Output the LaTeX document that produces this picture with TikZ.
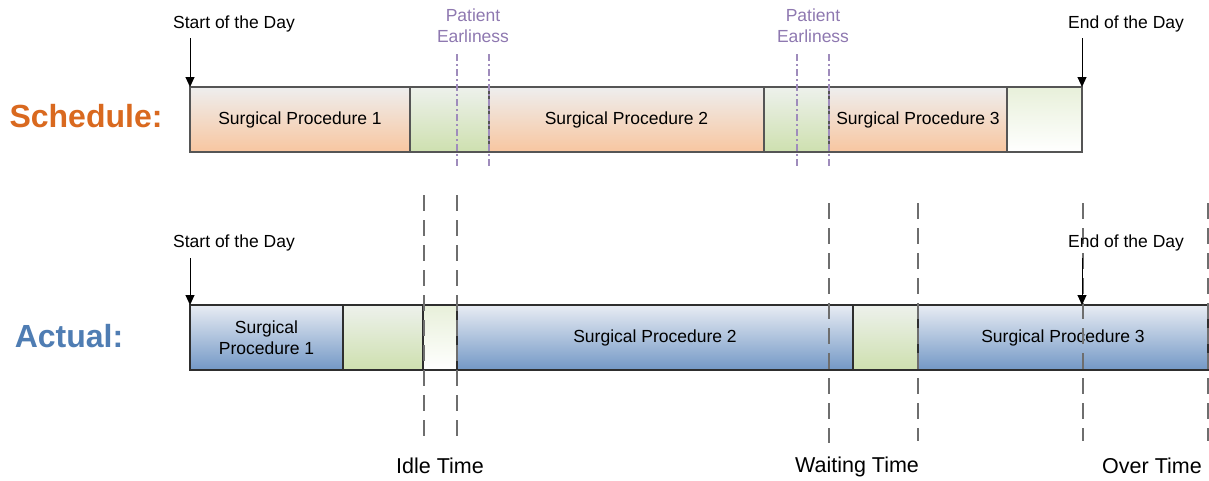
\documentclass[tikz,border=0pt]{standalone}
\usepackage{fontspec}
\setmainfont{Liberation Sans}
\usetikzlibrary{arrows.meta}
\definecolor{sched}{HTML}{D9691F}
\definecolor{actual}{HTML}{4F7DB3}
\definecolor{earl}{HTML}{8E78B0}
\definecolor{orangetop}{HTML}{EEEEEE}
\definecolor{orangebot}{HTML}{F8C6A0}
\definecolor{greentop}{HTML}{EDF1EC}
\definecolor{greenbot}{HTML}{CEE0AF}
\definecolor{palegreen}{HTML}{E8F0DA}
\definecolor{bluetop}{HTML}{E8ECF3}
\definecolor{bluebot}{HTML}{7398C6}
\definecolor{edge}{HTML}{555555}
\definecolor{edgedark}{HTML}{2E2E2E}
\definecolor{markgray}{HTML}{6E6E6E}
\tikzset{
  seg/.style={rectangle, inner sep=0pt, outer sep=0pt, anchor=north west,
    minimum height=65pt, line width=1.4pt, align=center,
    font=\fontsize{17.5}{21}\selectfont},
  orangeseg/.style={seg, draw=edge, top color=orangetop, bottom color=orangebot},
  greenseg/.style={seg, top color=greentop, bottom color=greenbot},
  paleseg/.style={seg, top color=palegreen, bottom color=white},
  blueseg/.style={seg, draw=edgedark, top color=bluetop, bottom color=bluebot},
  daylabel/.style={inner sep=0pt, font=\fontsize{17.5}{21}\selectfont},
  earllabel/.style={inner sep=0pt, text=earl, align=center,
    font=\fontsize{17.5}{21}\selectfont},
  kindlabel/.style={inner sep=0pt, font=\fontsize{21.5}{26}\selectfont},
  rowlabel/.style={inner sep=0pt, font=\fontsize{32}{38}\selectfont\bfseries},
  dayarrow/.style={line width=1pt, -{Triangle[width=9pt,length=10pt]}},
  earlline/.style={draw=earl!85, line width=1.3pt,
    dash pattern=on 7pt off 3pt on 2pt off 3pt},
  gapline/.style={draw=markgray, line width=1.5pt, dash pattern=on 16pt off 9pt},
}
\begin{document}
\begin{tikzpicture}[x=1pt,y=-1pt]
\useasboundingbox (0,0) rectangle (1209,480);

% row titles
\node[rowlabel, text=sched] (schedt) at (86,116) {Schedule:};
\node[rowlabel, text=actual] (actt) at (69,336) {Actual:};

% scheduled day
\node[orangeseg, minimum width=220pt] (s1) at (190,87) {Surgical Procedure 1};
\node[greenseg, draw=edge, minimum width=79pt] (g1) at (410,87) {};
\node[orangeseg, minimum width=275pt] (s2) at (489,87) {Surgical Procedure 2};
\node[greenseg, draw=edge, minimum width=65pt] (g2) at (764,87) {};
\node[orangeseg, minimum width=178pt] (s3) at (829,87) {Surgical Procedure 3};
\node[paleseg, draw=edge, minimum width=75pt] (g3) at (1007,87) {};

% day bounds, schedule
\node[daylabel] (sd1) at (234,24) {Start of the Day};
\node[daylabel] (ed1) at (1126,24) {End of the Day};
\coordinate (sd1a) at (190,38);
\coordinate (ed1a) at (1082,38);
\draw[dayarrow] (sd1a) -- (s1.north west);
\draw[dayarrow] (ed1a) -- (g3.north east);

% patient earliness
\node[earllabel] (pe1) at (473,26) {Patient\\Earliness};
\node[earllabel] (pe2) at (813,26) {Patient\\Earliness};
\coordinate (pa1) at (457,54);  \coordinate (pa2) at (457,168);
\coordinate (pb1) at (489,54);  \coordinate (pb2) at (489,168);
\coordinate (pc1) at (797,54);  \coordinate (pc2) at (797,168);
\coordinate (pd1) at (829,54);  \coordinate (pd2) at (829,168);
\draw[earlline] (pa1) -- (pa2);
\draw[earlline] (pb1) -- (pb2);
\draw[earlline] (pc1) -- (pc2);
\draw[earlline] (pd1) -- (pd2);

% actual day
\node[blueseg, minimum width=153pt] (a1) at (190,305) {Surgical\\Procedure 1};
\node[greenseg, draw=edgedark, minimum width=80pt] (h1) at (343,305) {};
\node[paleseg, draw=edgedark, minimum width=34pt] (h2) at (423,305) {};
\node[blueseg, minimum width=396pt] (a2) at (457,305) {Surgical Procedure 2};
\node[greenseg, draw=edgedark, minimum width=65pt] (h3) at (853,305) {};
\node[blueseg, minimum width=290pt] (a3) at (918,305) {Surgical Procedure 3};

% time markers
\coordinate (i1t) at (424,195);  \coordinate (i1b) at (424,436);
\coordinate (i2t) at (457,195);  \coordinate (i2b) at (457,436);
\coordinate (w1t) at (829,203);  \coordinate (w1b) at (829,443);
\coordinate (w2t) at (918,203);  \coordinate (w2b) at (918,441);
\coordinate (o1t) at (1083,203); \coordinate (o1b) at (1083,441);
\coordinate (o2t) at (1208,203); \coordinate (o2b) at (1208,441);
\draw[gapline] (i1t) -- (i1b);
\draw[gapline] (i2t) -- (i2b);
\draw[gapline] (w1t) -- (w1b);
\draw[gapline] (w2t) -- (w2b);
\draw[gapline] (o1t) -- (o1b);
\draw[gapline] (o2t) -- (o2b);

% day bounds, actual
\node[daylabel] (sd2) at (234,243) {Start of the Day};
\node[daylabel] (ed2) at (1126,243) {End of the Day};
\coordinate (sd2a) at (190,258);
\coordinate (ed2a) at (1082,258);
\draw[dayarrow] (sd2a) -- (a1.north west);
\draw[dayarrow] (ed2a) -- (ed2a |- a3.north);

% deviation labels
\node[kindlabel] (idle) at (440,466) {Idle Time};
\node[kindlabel] (wait) at (857,467) {Waiting Time};
\node[kindlabel] (over) at (1152,466) {Over Time};
\end{tikzpicture}
\end{document}
